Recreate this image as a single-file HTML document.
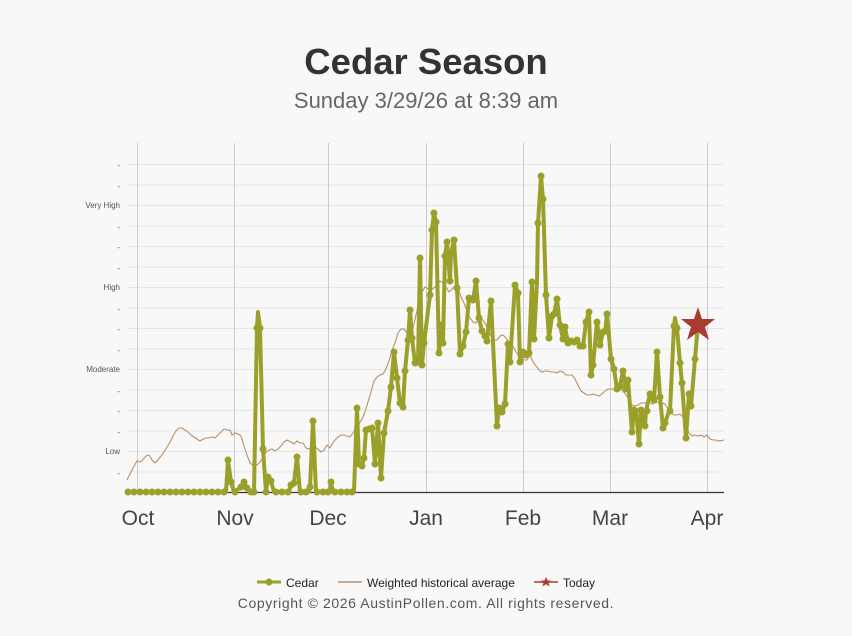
<!DOCTYPE html>
<html><head><meta charset="utf-8"><style>
html,body{margin:0;padding:0;background:#f8f8f8;}
svg{display:block;font-family:"Liberation Sans",Arial,sans-serif;}
</style></head><body>
<svg width="852" height="636" viewBox="0 0 852 636">
<rect width="852" height="636" fill="#f8f8f8"/>
<text x="426" y="74" text-anchor="middle" font-size="36.5" font-weight="bold" fill="#333">Cedar Season</text>
<text x="426" y="108" text-anchor="middle" font-size="22" fill="#666">Sunday 3/29/26 at 8:39 am</text>
<g stroke="#e6e6e6" stroke-width="1">
<line x1="127" x2="724" y1="164.5" y2="164.5"/><line x1="127" x2="724" y1="185" y2="185"/><line x1="127" x2="724" y1="205.5" y2="205.5"/><line x1="127" x2="724" y1="226" y2="226"/><line x1="127" x2="724" y1="246.5" y2="246.5"/><line x1="127" x2="724" y1="267" y2="267"/><line x1="127" x2="724" y1="287.5" y2="287.5"/><line x1="127" x2="724" y1="308" y2="308"/><line x1="127" x2="724" y1="328.5" y2="328.5"/><line x1="127" x2="724" y1="349" y2="349"/><line x1="127" x2="724" y1="369.5" y2="369.5"/><line x1="127" x2="724" y1="390" y2="390"/><line x1="127" x2="724" y1="410.5" y2="410.5"/><line x1="127" x2="724" y1="431" y2="431"/><line x1="127" x2="724" y1="451.5" y2="451.5"/><line x1="127" x2="724" y1="472" y2="472"/>
</g>
<g stroke="#cccccc" stroke-width="1">
<line x1="137.5" x2="137.5" y1="143" y2="492"/><line x1="234.5" x2="234.5" y1="143" y2="492"/><line x1="328.5" x2="328.5" y1="143" y2="492"/><line x1="426.5" x2="426.5" y1="143" y2="492"/><line x1="523.5" x2="523.5" y1="143" y2="492"/><line x1="610.5" x2="610.5" y1="143" y2="492"/><line x1="707.5" x2="707.5" y1="143" y2="492"/>
</g>
<line x1="127" x2="724" y1="492.5" y2="492.5" stroke="#333" stroke-width="1.2"/>
<g font-size="8" fill="#555" text-anchor="end">
<text x="120" y="168">-</text><text x="120" y="189">-</text><text x="120" y="208">Very High</text><text x="120" y="230">-</text><text x="120" y="250">-</text><text x="120" y="271">-</text><text x="120" y="290">High</text><text x="120" y="312">-</text><text x="120" y="332">-</text><text x="120" y="353">-</text><text x="120" y="372">Moderate</text><text x="120" y="394">-</text><text x="120" y="414">-</text><text x="120" y="435">-</text><text x="120" y="454">Low</text><text x="120" y="476">-</text>
</g>
<g font-size="21" fill="#444" text-anchor="middle">
<text x="138" y="525">Oct</text><text x="235" y="525">Nov</text><text x="328" y="525">Dec</text><text x="426" y="525">Jan</text><text x="523" y="525">Feb</text><text x="610" y="525">Mar</text><text x="707" y="525">Apr</text>
</g>
<polyline fill="none" stroke="#b89068" stroke-width="1.1" points="127,480 133,468 137,461 141,462 146,456 149,455 152,460 155,463 158,460 161,456 164,452 167,447 170,442 173,436 176,431 179,428 182,428 185,430 188,432 191,435 194,437 197,439 200,441 203,439 206,438 209,438 212,437 215,438 218,435 221,432 224,429 227,430 230,430 232,435 235,433 238,434 241,436 244,446 247,455 250,463 254,466 257,465 260,462 263,458 266,452 269,450 272,449 275,451 278,449 281,446 284,442 287,440 291,442 294,444 297,441 300,443 303,443 306,448 309,449 312,447 315,447 318,449 321,452 324,450 327,445 330,448 332,444 335,440 338,437 341,435 344,435 347,436 350,437 353,433 356,428 359,424 362,419 365,412 368,402 371,392 374,381 377,377 380,375 383,374 386,369 389,361 392,350 395,343 398,333 401,329 404,329 407,333 410,337 413,328 416,315 419,302 422,292 425,287 428,289 431,290 434,288 437,285 440,281 443,283 446,287 449,292 452,289 455,286 458,288 461,297 464,303 467,311 470,318 473,322 476,323 479,319 482,319 485,323 488,330 491,336 494,340 497,340 500,336 503,335 506,338 509,343 512,345 515,350 518,355 521,357 524,360 527,360 530,355 533,362 536,366 539,370 542,372 545,371 548,371 551,372 554,372 557,373 560,371 563,372 566,375 569,375 572,375 575,379 578,385 581,391 584,393 587,395 590,395 593,394 596,395 599,396 602,394 605,391 608,389 611,389 614,389 617,389 620,389 623,391 626,395 629,399 632,405 635,406 638,405 641,403 644,403 647,403 650,403 653,404 656,402 659,403 662,403 665,404 668,409 671,413 674,415 677,415 680,414 683,417 686,425 689,433 692,436 695,435 698,436 701,435 704,437 707,435 710,439 713,440 716,440 719,441 724,440"/>
<polyline fill="none" stroke="#9aa02a" stroke-width="4" stroke-linejoin="round" points="127,492 226,492 228,460 231,482 234,492 241,487 244,482 247,488 251,492 254,492 257,328 258,312 260,328 263,449 266,492 268,477 271,481 274,492 289,492 291,485 294,483 297,457 300,492 309,492 310,487 313,421 316,492 330,492 331,482 333,492 354,492 357,408 359,464 362,466 364,458 366,430 372,428 375,464 378,423 381,478 384,433 388,411 391,387 394,352 397,378 400,403 403,407 405,371 408,340 410,310 412,338 415,363 418,362 420,258 422,365 424,343 430,295 432,230 434,213 436,222 439,353 441,325 443,343 445,256 447,242 450,281 451,253 454,240 457,288 460,354 463,346 466,332 469,298 473,300 476,281 479,318 482,331 485,336 487,341 491,301 497,426 499,408 502,412 505,404 508,344 510,362 515,285 518,293 520,362 523,352 526,355 529,353 532,282 534,339 537,282 538,223 541,176 543,199 546,295 549,338 552,316 554,314 557,299 560,325 563,339 565,327 568,343 571,341 574,342 577,340 580,346 583,346 586,322 589,312 591,375 593,365 597,322 600,345 603,332 605,333 607,314 611,359 614,369 617,389 620,386 623,371 626,389 628,380 632,432 634,410 636,410 639,444 641,410 643,419 645,426 646,411 650,394 652,396 654,400 657,352 660,397 663,428 665,423 668,414 670,411 674,326 675,318 677,328 680,363 682,383 686,438 689,394 691,406 692,395 695,359 698,324"/>
<g fill="#9aa02a">
<circle cx="128" cy="492" r="3.5"/><circle cx="134" cy="492" r="3.5"/><circle cx="140" cy="492" r="3.5"/><circle cx="146" cy="492" r="3.5"/><circle cx="152" cy="492" r="3.5"/><circle cx="158" cy="492" r="3.5"/><circle cx="164" cy="492" r="3.5"/><circle cx="170" cy="492" r="3.5"/><circle cx="176" cy="492" r="3.5"/><circle cx="182" cy="492" r="3.5"/><circle cx="188" cy="492" r="3.5"/><circle cx="194" cy="492" r="3.5"/><circle cx="200" cy="492" r="3.5"/><circle cx="206" cy="492" r="3.5"/><circle cx="212" cy="492" r="3.5"/><circle cx="218" cy="492" r="3.5"/><circle cx="224" cy="492" r="3.5"/>
<circle cx="228" cy="460" r="3.5"/><circle cx="231" cy="482" r="3.5"/><circle cx="235" cy="492" r="3.5"/><circle cx="241" cy="487" r="3.5"/><circle cx="244" cy="482" r="3.5"/><circle cx="247" cy="488" r="3.5"/><circle cx="251" cy="492" r="3.5"/><circle cx="254" cy="492" r="3.5"/><circle cx="257" cy="328" r="3.5"/><circle cx="260" cy="328" r="3.5"/><circle cx="263" cy="449" r="3.5"/><circle cx="266" cy="492" r="3.5"/><circle cx="268" cy="477" r="3.5"/><circle cx="271" cy="481" r="3.5"/>
<circle cx="276" cy="492" r="3.5"/><circle cx="282" cy="492" r="3.5"/><circle cx="288" cy="492" r="3.5"/><circle cx="291" cy="485" r="3.5"/><circle cx="294" cy="483" r="3.5"/><circle cx="297" cy="457" r="3.5"/><circle cx="301" cy="492" r="3.5"/><circle cx="306" cy="492" r="3.5"/><circle cx="310" cy="487" r="3.5"/><circle cx="313" cy="421" r="3.5"/><circle cx="317" cy="492" r="3.5"/><circle cx="323" cy="492" r="3.5"/><circle cx="328" cy="492" r="3.5"/><circle cx="331" cy="482" r="3.5"/><circle cx="335" cy="492" r="3.5"/><circle cx="341" cy="492" r="3.5"/><circle cx="347" cy="492" r="3.5"/><circle cx="352" cy="492" r="3.5"/>
<circle cx="357" cy="408" r="3.5"/><circle cx="359" cy="464" r="3.5"/><circle cx="362" cy="466" r="3.5"/><circle cx="364" cy="458" r="3.5"/><circle cx="366" cy="430" r="3.5"/><circle cx="369" cy="429" r="3.5"/><circle cx="372" cy="428" r="3.5"/><circle cx="375" cy="464" r="3.5"/><circle cx="378" cy="423" r="3.5"/><circle cx="381" cy="478" r="3.5"/><circle cx="384" cy="433" r="3.5"/><circle cx="388" cy="411" r="3.5"/><circle cx="391" cy="387" r="3.5"/><circle cx="394" cy="352" r="3.5"/><circle cx="397" cy="378" r="3.5"/><circle cx="400" cy="403" r="3.5"/><circle cx="403" cy="407" r="3.5"/><circle cx="405" cy="371" r="3.5"/><circle cx="408" cy="340" r="3.5"/><circle cx="410" cy="310" r="3.5"/><circle cx="412" cy="338" r="3.5"/><circle cx="415" cy="363" r="3.5"/><circle cx="418" cy="362" r="3.5"/><circle cx="420" cy="258" r="3.5"/><circle cx="422" cy="365" r="3.5"/><circle cx="424" cy="343" r="3.5"/><circle cx="430" cy="295" r="3.5"/><circle cx="432" cy="230" r="3.5"/><circle cx="434" cy="213" r="3.5"/><circle cx="436" cy="222" r="3.5"/><circle cx="439" cy="353" r="3.5"/><circle cx="441" cy="325" r="3.5"/><circle cx="443" cy="343" r="3.5"/><circle cx="445" cy="256" r="3.5"/><circle cx="447" cy="242" r="3.5"/><circle cx="450" cy="281" r="3.5"/><circle cx="451" cy="253" r="3.5"/><circle cx="454" cy="240" r="3.5"/><circle cx="457" cy="288" r="3.5"/><circle cx="460" cy="354" r="3.5"/><circle cx="463" cy="346" r="3.5"/><circle cx="466" cy="332" r="3.5"/><circle cx="469" cy="298" r="3.5"/><circle cx="473" cy="300" r="3.5"/><circle cx="476" cy="281" r="3.5"/><circle cx="479" cy="318" r="3.5"/><circle cx="482" cy="331" r="3.5"/><circle cx="485" cy="336" r="3.5"/><circle cx="487" cy="341" r="3.5"/><circle cx="491" cy="301" r="3.5"/><circle cx="497" cy="426" r="3.5"/><circle cx="499" cy="408" r="3.5"/><circle cx="502" cy="412" r="3.5"/><circle cx="505" cy="404" r="3.5"/><circle cx="508" cy="344" r="3.5"/><circle cx="510" cy="362" r="3.5"/><circle cx="515" cy="285" r="3.5"/><circle cx="518" cy="293" r="3.5"/><circle cx="520" cy="362" r="3.5"/><circle cx="523" cy="352" r="3.5"/><circle cx="526" cy="355" r="3.5"/><circle cx="529" cy="353" r="3.5"/><circle cx="532" cy="282" r="3.5"/><circle cx="534" cy="339" r="3.5"/><circle cx="538" cy="223" r="3.5"/><circle cx="541" cy="176" r="3.5"/><circle cx="543" cy="199" r="3.5"/><circle cx="546" cy="295" r="3.5"/><circle cx="549" cy="338" r="3.5"/><circle cx="552" cy="316" r="3.5"/><circle cx="554" cy="314" r="3.5"/><circle cx="557" cy="299" r="3.5"/><circle cx="560" cy="325" r="3.5"/><circle cx="563" cy="339" r="3.5"/><circle cx="565" cy="327" r="3.5"/><circle cx="568" cy="343" r="3.5"/><circle cx="571" cy="341" r="3.5"/><circle cx="574" cy="342" r="3.5"/><circle cx="577" cy="340" r="3.5"/><circle cx="580" cy="346" r="3.5"/><circle cx="583" cy="346" r="3.5"/><circle cx="586" cy="322" r="3.5"/><circle cx="589" cy="312" r="3.5"/><circle cx="591" cy="375" r="3.5"/><circle cx="593" cy="365" r="3.5"/><circle cx="597" cy="322" r="3.5"/><circle cx="600" cy="345" r="3.5"/><circle cx="603" cy="332" r="3.5"/><circle cx="607" cy="314" r="3.5"/><circle cx="611" cy="359" r="3.5"/><circle cx="614" cy="369" r="3.5"/><circle cx="617" cy="389" r="3.5"/><circle cx="620" cy="386" r="3.5"/><circle cx="623" cy="371" r="3.5"/><circle cx="626" cy="389" r="3.5"/><circle cx="628" cy="380" r="3.5"/><circle cx="632" cy="432" r="3.5"/><circle cx="634" cy="410" r="3.5"/><circle cx="639" cy="444" r="3.5"/><circle cx="641" cy="410" r="3.5"/><circle cx="645" cy="426" r="3.5"/><circle cx="647" cy="411" r="3.5"/><circle cx="650" cy="394" r="3.5"/><circle cx="654" cy="400" r="3.5"/><circle cx="657" cy="352" r="3.5"/><circle cx="660" cy="397" r="3.5"/><circle cx="663" cy="428" r="3.5"/><circle cx="665" cy="423" r="3.5"/><circle cx="670" cy="411" r="3.5"/><circle cx="674" cy="326" r="3.5"/><circle cx="677" cy="328" r="3.5"/><circle cx="680" cy="363" r="3.5"/><circle cx="682" cy="383" r="3.5"/><circle cx="686" cy="438" r="3.5"/><circle cx="689" cy="394" r="3.5"/><circle cx="691" cy="406" r="3.5"/><circle cx="695" cy="359" r="3.5"/>
</g>
<polygon fill="#a83c32" points="698,307 702,319 715,319 705,327 709,340 698,332 687,340 691,327 681,319 694,319"/>
<g font-size="12" fill="#222">
<line x1="257" x2="281" y1="582" y2="582" stroke="#9aa02a" stroke-width="3"/><circle cx="269" cy="582" r="3.5" fill="#9aa02a"/>
<text x="286" y="587">Cedar</text>
<line x1="338" x2="362" y1="582" y2="582" stroke="#b89068" stroke-width="1.5"/>
<text x="367" y="587">Weighted historical average</text>
<line x1="534" x2="558" y1="582" y2="582" stroke="#a83c32" stroke-width="1.5"/>
<polygon fill="#a83c32" points="546,577 547.5,580.5 551,580.5 548.5,582.8 549.5,586.5 546,584.3 542.5,586.5 543.5,582.8 541,580.5 544.5,580.5"/>
<text x="563" y="587">Today</text>
</g>
<text x="426" y="608" text-anchor="middle" font-size="14" fill="#555" letter-spacing="0.6">Copyright © 2026 AustinPollen.com.  All rights reserved.</text>
</svg>
</body></html>
